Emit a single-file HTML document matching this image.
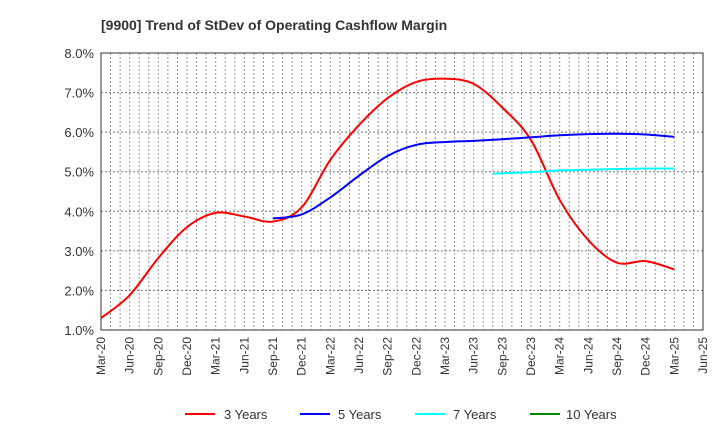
<!DOCTYPE html>
<html><head><meta charset="utf-8"><style>
body{margin:0;background:#fff;font-family:"Liberation Sans",Arial,sans-serif}
svg text{font-family:"Liberation Sans",Arial,sans-serif}
</style></head><body>
<svg id="c" width="720" height="440" xmlns="http://www.w3.org/2000/svg">
<text x="101" y="30" font-size="14" font-weight="bold" fill="#333">[9900]  Trend of StDev of Operating Cashflow Margin</text>
<g id="grid"></g><g id="axes"></g><g id="series"></g>
<g>
<line x1="185" y1="414" x2="215" y2="414" stroke="#f00" stroke-width="2"/>
<text x="224" y="419" font-size="13" fill="#333">3 Years</text>
<line x1="300" y1="414" x2="330" y2="414" stroke="#00f" stroke-width="2"/>
<text x="338" y="419" font-size="13" fill="#333">5 Years</text>
<line x1="415" y1="414" x2="445" y2="414" stroke="#0ff" stroke-width="2"/>
<text x="453" y="419" font-size="13" fill="#333">7 Years</text>
<line x1="530" y1="414" x2="560" y2="414" stroke="#080" stroke-width="2"/>
<text x="566" y="419" font-size="13" fill="#333">10 Years</text>
</g>
</svg>
<script>
const xTickLabels=["Mar-20","Jun-20","Sep-20","Dec-20","Mar-21","Jun-21","Sep-21","Dec-21","Mar-22","Jun-22","Sep-22","Dec-22","Mar-23","Jun-23","Sep-23","Dec-23","Mar-24","Jun-24","Sep-24","Dec-24","Mar-25","Jun-25"];
const yTicks=[1,2,3,4,5,6,7,8];
const redMonths=[0,3,6,9,12,15,18,21,24,27,30,33,36,39,42,45,48,51,54,57,60];
const redVals=[1.3,1.88,2.82,3.6,3.96,3.87,3.74,4.1,5.3,6.18,6.86,7.27,7.35,7.22,6.62,5.8,4.29,3.27,2.7,2.74,2.53];
const blueMonths=[18,21,24,27,30,33,36,39,42,45,48,51,54,57,60];
const blueVals=[3.82,3.92,4.35,4.9,5.4,5.68,5.75,5.78,5.82,5.87,5.92,5.95,5.96,5.94,5.88];
const cyanMonths=[41,45,48,51,54,57,60];
const cyanVals=[4.95,4.99,5.03,5.05,5.07,5.08,5.08];
const L=101,R=703,T=53,B=330;
const xS=m=>L+(R-L)*m/63, yS=v=>B-(v-1)*(B-T)/7;
const NS="http://www.w3.org/2000/svg";
function mk(t,a,p){const e=document.createElementNS(NS,t);for(const k in a)e.setAttribute(k,a[k]);p.appendChild(e);return e;}
const grid=document.getElementById('grid'),axes=document.getElementById('axes'),ser=document.getElementById('series');
for(let m=1;m<63;m++){const l=mk('line',{x1:xS(m),x2:xS(m),y1:T,y2:B,stroke:'#999','stroke-dasharray':'2,2','stroke-width':1},grid);
}
yTicks.forEach(v=>{if(v>1&&v<8){const l=mk('line',{x1:L,x2:R,y1:yS(v),y2:yS(v),stroke:'#777','stroke-dasharray':'2,2'},grid);
}
const t=mk('text',{x:L-7,y:yS(v)+5,'text-anchor':'end','font-size':13,fill:'#333'},axes);t.textContent=v.toFixed(1)+'%';
});
const fr=mk('rect',{x:L,y:T,width:R-L,height:B-T,fill:'none',stroke:'#333'},axes);

xTickLabels.forEach((s,i)=>{const x=xS(i*3);const t=mk('text',{x:0,y:0,transform:`translate(${x+4},337) rotate(-90)`,'text-anchor':'end','font-size':12,fill:'#333'},axes);t.textContent=s;
});
function path(ms,vs){const p=ms.map((m,i)=>[xS(m),yS(vs[i])]);let d=`M${p[0][0]},${p[0][1]}`;
for(let i=0;i<p.length-1;i++){const p0=p[i-1]||p[i],p1=p[i],p2=p[i+1],p3=p[i+2]||p2;
d+=` C${p1[0]+(p2[0]-p0[0])/6},${p1[1]+(p2[1]-p0[1])/6} ${p2[0]-(p3[0]-p1[0])/6},${p2[1]-(p3[1]-p1[1])/6} ${p2[0]},${p2[1]}`;}return d;}
[[redMonths,redVals,'#f00','series-3-years'],[blueMonths,blueVals,'#00f','series-5-years'],[cyanMonths,cyanVals,'#0ff','series-7-years']].forEach(s=>{
const e=mk('path',{d:path(s[0],s[1]),fill:'none',stroke:s[2],'stroke-width':2},ser);
});
</script>
</body></html>
